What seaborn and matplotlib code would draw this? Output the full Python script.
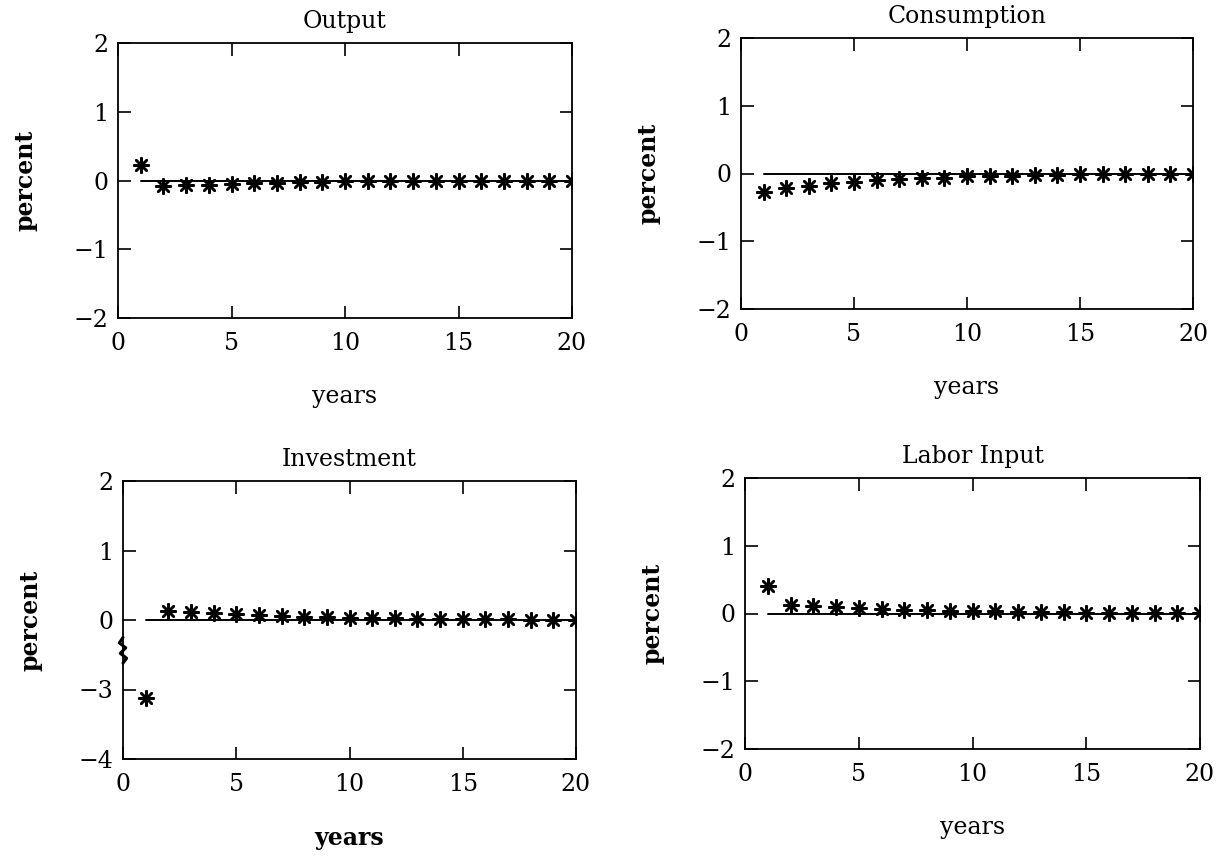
import numpy as np
import pandas as pd
import matplotlib
matplotlib.use("Agg")
import matplotlib.pyplot as plt
import seaborn as sns

# ---------------- data ----------------
years = list(range(1, 21))
output_vals = [0.23, -0.08, -0.07, -0.06, -0.05, -0.04, -0.03, -0.02, -0.02, -0.01,
               -0.01, -0.01, -0.01, 0.0, 0.0, 0.0, 0.0, 0.0, 0.0, 0.0]
consumption_vals = [-0.27, -0.22, -0.18, -0.14, -0.12, -0.10, -0.08, -0.06, -0.06, -0.04,
                    -0.04, -0.03, -0.02, -0.02, -0.01, -0.01, -0.01, 0.0, 0.0, 0.0]
investment_vals = [-3.12, 0.13, 0.115, 0.10, 0.085, 0.075, 0.06, 0.05, 0.04, 0.035,
                   0.03, 0.025, 0.02, 0.015, 0.01, 0.01, 0.01, 0.005, 0.0, 0.0]
labor_vals = [0.40, 0.12, 0.105, 0.095, 0.08, 0.06, 0.05, 0.05, 0.04, 0.035,
              0.03, 0.02, 0.02, 0.015, 0.01, 0.01, 0.01, 0.01, 0.01, 0.01]
titles = ["Output", "Consumption", "Investment", "Labor Input"]
xticks = [0, 5, 10, 15, 20]
yticks_std = [2, 1, 0, -1, -2]
yticks_inv = [2, 1, 0, -3, -4]   # broken axis labels for Investment
BREAK_SHIFT = 2                  # values below the break are shifted up by this much

sns.set_theme(style="ticks")
plt.rcParams['font.family'] = ['DejaVu Serif']
plt.rcParams['axes.linewidth'] = 1.3
plt.rcParams['text.color'] = 'black'
plt.rcParams['axes.labelcolor'] = 'black'
plt.rcParams['axes.titlecolor'] = 'black'
plt.rcParams['xtick.color'] = 'black'
plt.rcParams['ytick.color'] = 'black'

fig = plt.figure(figsize=(12.25, 8.67), dpi=100)
W, H = 1225, 867

def make_ax(l, t, r, b):
    return fig.add_axes([l / W, 1 - b / H, (r - l) / W, (b - t) / H])

axes = [make_ax(118, 43, 572, 318),
        make_ax(741, 38, 1193, 309),
        make_ax(123, 481, 576, 759),
        make_ax(745, 478, 1200, 749)]

series = [output_vals, consumption_vals, investment_vals, labor_vals]
star = (8, 2, 0)

for i, (ax, vals, title) in enumerate(zip(axes, series, titles)):
    if i == 2:
        disp = [v + BREAK_SHIFT if v < -1 else v for v in vals]
    else:
        disp = list(vals)
    df = pd.DataFrame({"year": years, "val": disp, "zero": [0.0] * len(years)})
    sns.lineplot(data=df, x="year", y="zero", ax=ax, color="black", lw=1.4)
    sns.scatterplot(data=df, x="year", y="val", ax=ax, marker=star, s=110,
                    color="black", linewidth=1.8, edgecolor="black", zorder=3)
    ax.set_xlim(0, 20)
    ax.set_ylim(-2, 2)
    ax.set_xticks(xticks)
    ax.set_xticklabels([str(t) for t in xticks])
    ax.set_yticks([2, 1, 0, -1, -2])
    labs = yticks_inv if i == 2 else yticks_std
    ax.set_yticklabels([str(t).replace('-', '\u2212') for t in labs])
    ax.tick_params(axis='both', direction='in', length=9, width=1.2,
                   top=True, right=True, labelsize=17, colors='black', pad=7)
    ax.tick_params(axis='x', pad=10)
    for sp in ax.spines.values():
        sp.set_visible(True)
        sp.set_color('black')
    ax.set_title(title, fontsize=17, pad=11)
    ax.set_ylabel("percent", fontsize=17, fontweight='bold', labelpad=26)
    ax.set_xlabel("years", fontsize=17, fontweight='bold' if i == 2 else 'normal',
                  labelpad=22)
    ax.set_facecolor('white')

# axis-break zigzag on Investment left spine
axb = axes[2]
zx = [0.0, -0.008, 0.006, -0.006, 0.008, 0.0]
zy = [-0.25, -0.33, -0.40, -0.48, -0.55, -0.62]
axb.plot(zx, zy, transform=matplotlib.transforms.blended_transform_factory(axb.transAxes, axb.transData),
         color='black', lw=2.2, clip_on=False, zorder=5)

fig.savefig("out.png", dpi=100, facecolor='white')
